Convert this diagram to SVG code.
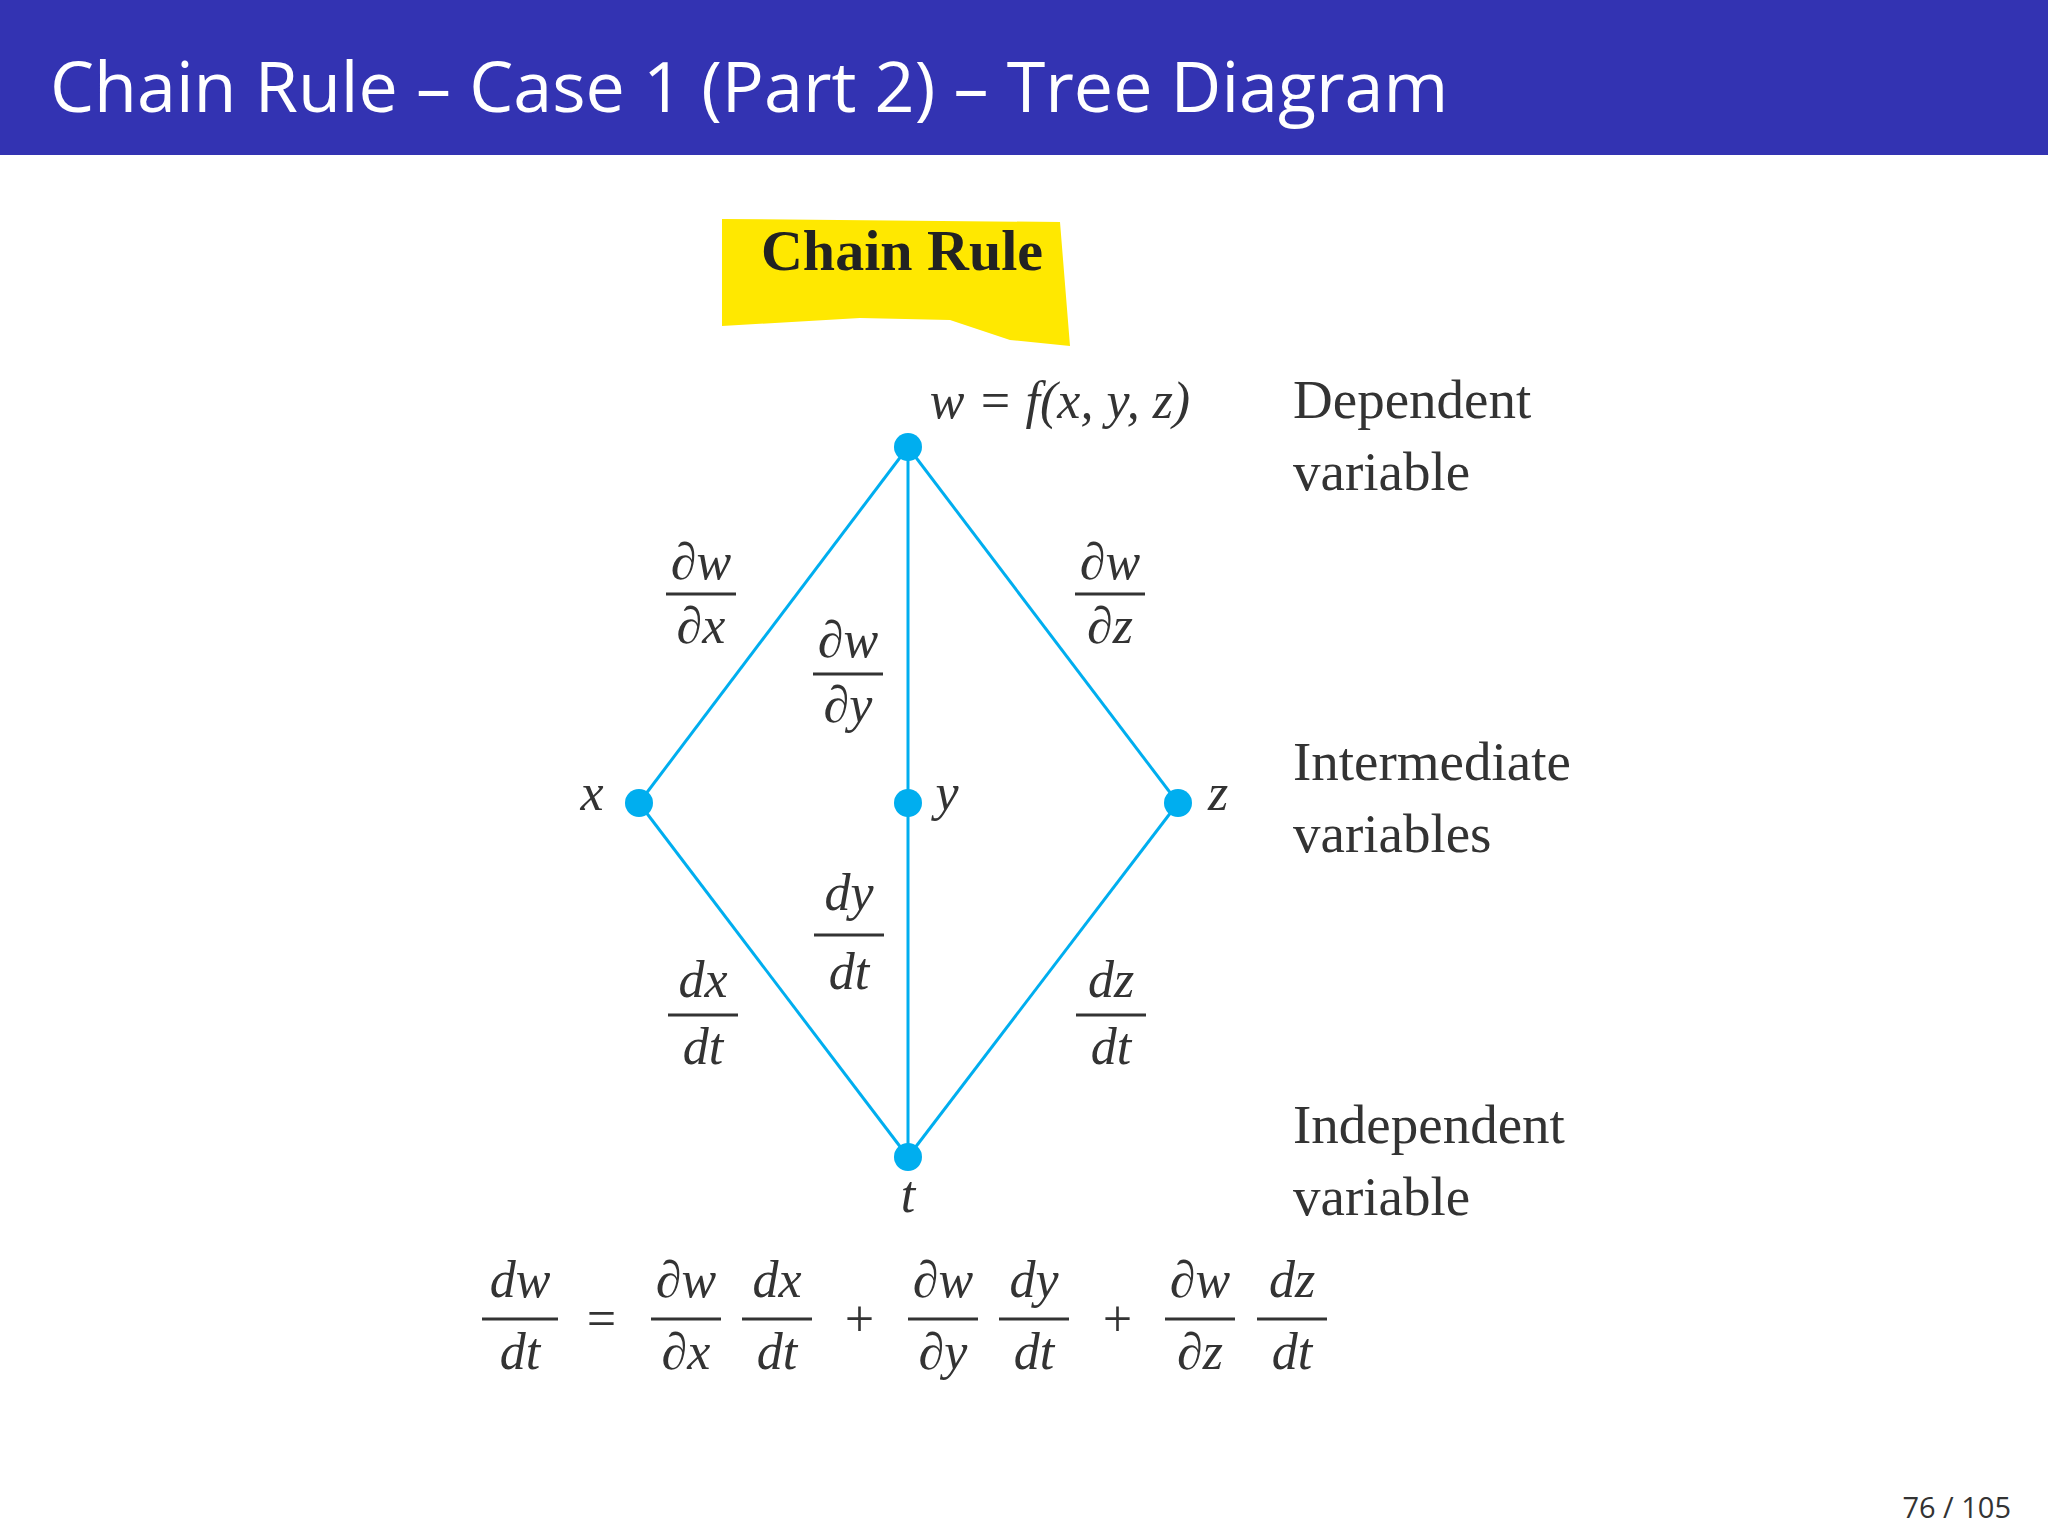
<svg xmlns="http://www.w3.org/2000/svg" width="2048" height="1536" viewBox="0 0 2048 1536">
<style>
.m{font-family:"Liberation Serif",serif;font-style:italic;font-size:52px;fill:#333;text-anchor:middle}
.r{font-family:"Liberation Serif",serif;font-size:55px;fill:#333}
.bar{stroke:#333;stroke-width:3}
.e{stroke:#00AEEF;stroke-width:3;fill:none}
.n{fill:#00AEEF}
</style>
<rect width="2048" height="1536" fill="#fff"/>
<rect width="2048" height="155" fill="#3333B2"/>
<text x="50" y="112" font-family="Open Sans,DejaVu Sans,sans-serif" font-size="70" fill="#fff">Chain Rule – Case 1 (Part 2) – Tree Diagram</text>
<g id="title-box">
<path d="M722 219 L1060 222 L1070 346 L1010 340 L950 320 L860 318 L722 326 Z" fill="#FFE800"/>
<text x="902" y="270" text-anchor="middle" font-family="Liberation Serif,serif" font-weight="bold" font-size="58" fill="#222">Chain Rule</text>
</g>
<g id="connectors">
<line class="e" x1="908" y1="447" x2="639" y2="803"/>
<line class="e" x1="908" y1="447" x2="908" y2="1157"/>
<line class="e" x1="908" y1="447" x2="1178" y2="803"/>
<line class="e" x1="639" y1="803" x2="908" y2="1157"/>
<line class="e" x1="1178" y1="803" x2="908" y2="1157"/>
</g>
<g id="node-w"><circle class="n" cx="908" cy="447" r="14"/><text class="m" x="1060" y="418">w = f(x, y, z)</text></g>
<g id="node-x"><circle class="n" cx="639" cy="803" r="14"/><text class="m" x="592" y="810">x</text></g>
<g id="node-y"><circle class="n" cx="908" cy="803" r="14"/><text class="m" x="947" y="810">y</text></g>
<g id="node-z"><circle class="n" cx="1178" cy="803" r="14"/><text class="m" x="1218" y="810">z</text></g>
<g id="node-t"><circle class="n" cx="908" cy="1157" r="14"/><text class="m" x="908" y="1212">t</text></g>
<g id="labels-side">
<text class="r" x="1293" y="418">Dependent</text><text class="r" x="1293" y="490">variable</text>
<text class="r" x="1293" y="780">Intermediate</text><text class="r" x="1293" y="852">variables</text>
<text class="r" x="1293" y="1143">Independent</text><text class="r" x="1293" y="1215">variable</text>
</g>
<g id="edge-labels">
<text class="m" x="701" y="579">∂w</text><line class="bar" x1="666" y1="594" x2="736" y2="594"/><text class="m" x="701" y="643">∂x</text>
<text class="m" x="848" y="657">∂w</text><line class="bar" x1="813" y1="674" x2="883" y2="674"/><text class="m" x="848" y="722">∂y</text>
<text class="m" x="1110" y="579">∂w</text><line class="bar" x1="1075" y1="594" x2="1145" y2="594"/><text class="m" x="1110" y="643">∂z</text>
<text class="m" x="849" y="910">dy</text><line class="bar" x1="814" y1="935" x2="884" y2="935"/><text class="m" x="849" y="989">dt</text>
<text class="m" x="703" y="997">dx</text><line class="bar" x1="668" y1="1015" x2="738" y2="1015"/><text class="m" x="703" y="1064">dt</text>
<text class="m" x="1111" y="997">dz</text><line class="bar" x1="1076" y1="1015" x2="1146" y2="1015"/><text class="m" x="1111" y="1064">dt</text>
</g>
<g id="equation">
<text class="m" x="520" y="1297">dw</text><line class="bar" x1="482" y1="1319" x2="558" y2="1319"/><text class="m" x="520" y="1369">dt</text>
<text class="m" x="601" y="1336" font-style="normal">=</text>
<text class="m" x="686" y="1297">∂w</text><line class="bar" x1="651" y1="1319" x2="721" y2="1319"/><text class="m" x="686" y="1369">∂x</text>
<text class="m" x="777" y="1297">dx</text><line class="bar" x1="742" y1="1319" x2="812" y2="1319"/><text class="m" x="777" y="1369">dt</text>
<text class="m" x="859" y="1336" font-style="normal">+</text>
<text class="m" x="943" y="1297">∂w</text><line class="bar" x1="908" y1="1319" x2="978" y2="1319"/><text class="m" x="943" y="1369">∂y</text>
<text class="m" x="1034" y="1297">dy</text><line class="bar" x1="999" y1="1319" x2="1069" y2="1319"/><text class="m" x="1034" y="1369">dt</text>
<text class="m" x="1117" y="1336" font-style="normal">+</text>
<text class="m" x="1200" y="1297">∂w</text><line class="bar" x1="1165" y1="1319" x2="1235" y2="1319"/><text class="m" x="1200" y="1369">∂z</text>
<text class="m" x="1292" y="1297">dz</text><line class="bar" x1="1257" y1="1319" x2="1327" y2="1319"/><text class="m" x="1292" y="1369">dt</text>
</g>
<text x="2011" y="1518" text-anchor="end" font-family="Open Sans,DejaVu Sans,sans-serif" font-size="29" fill="#333">76 / 105</text>
</svg>
